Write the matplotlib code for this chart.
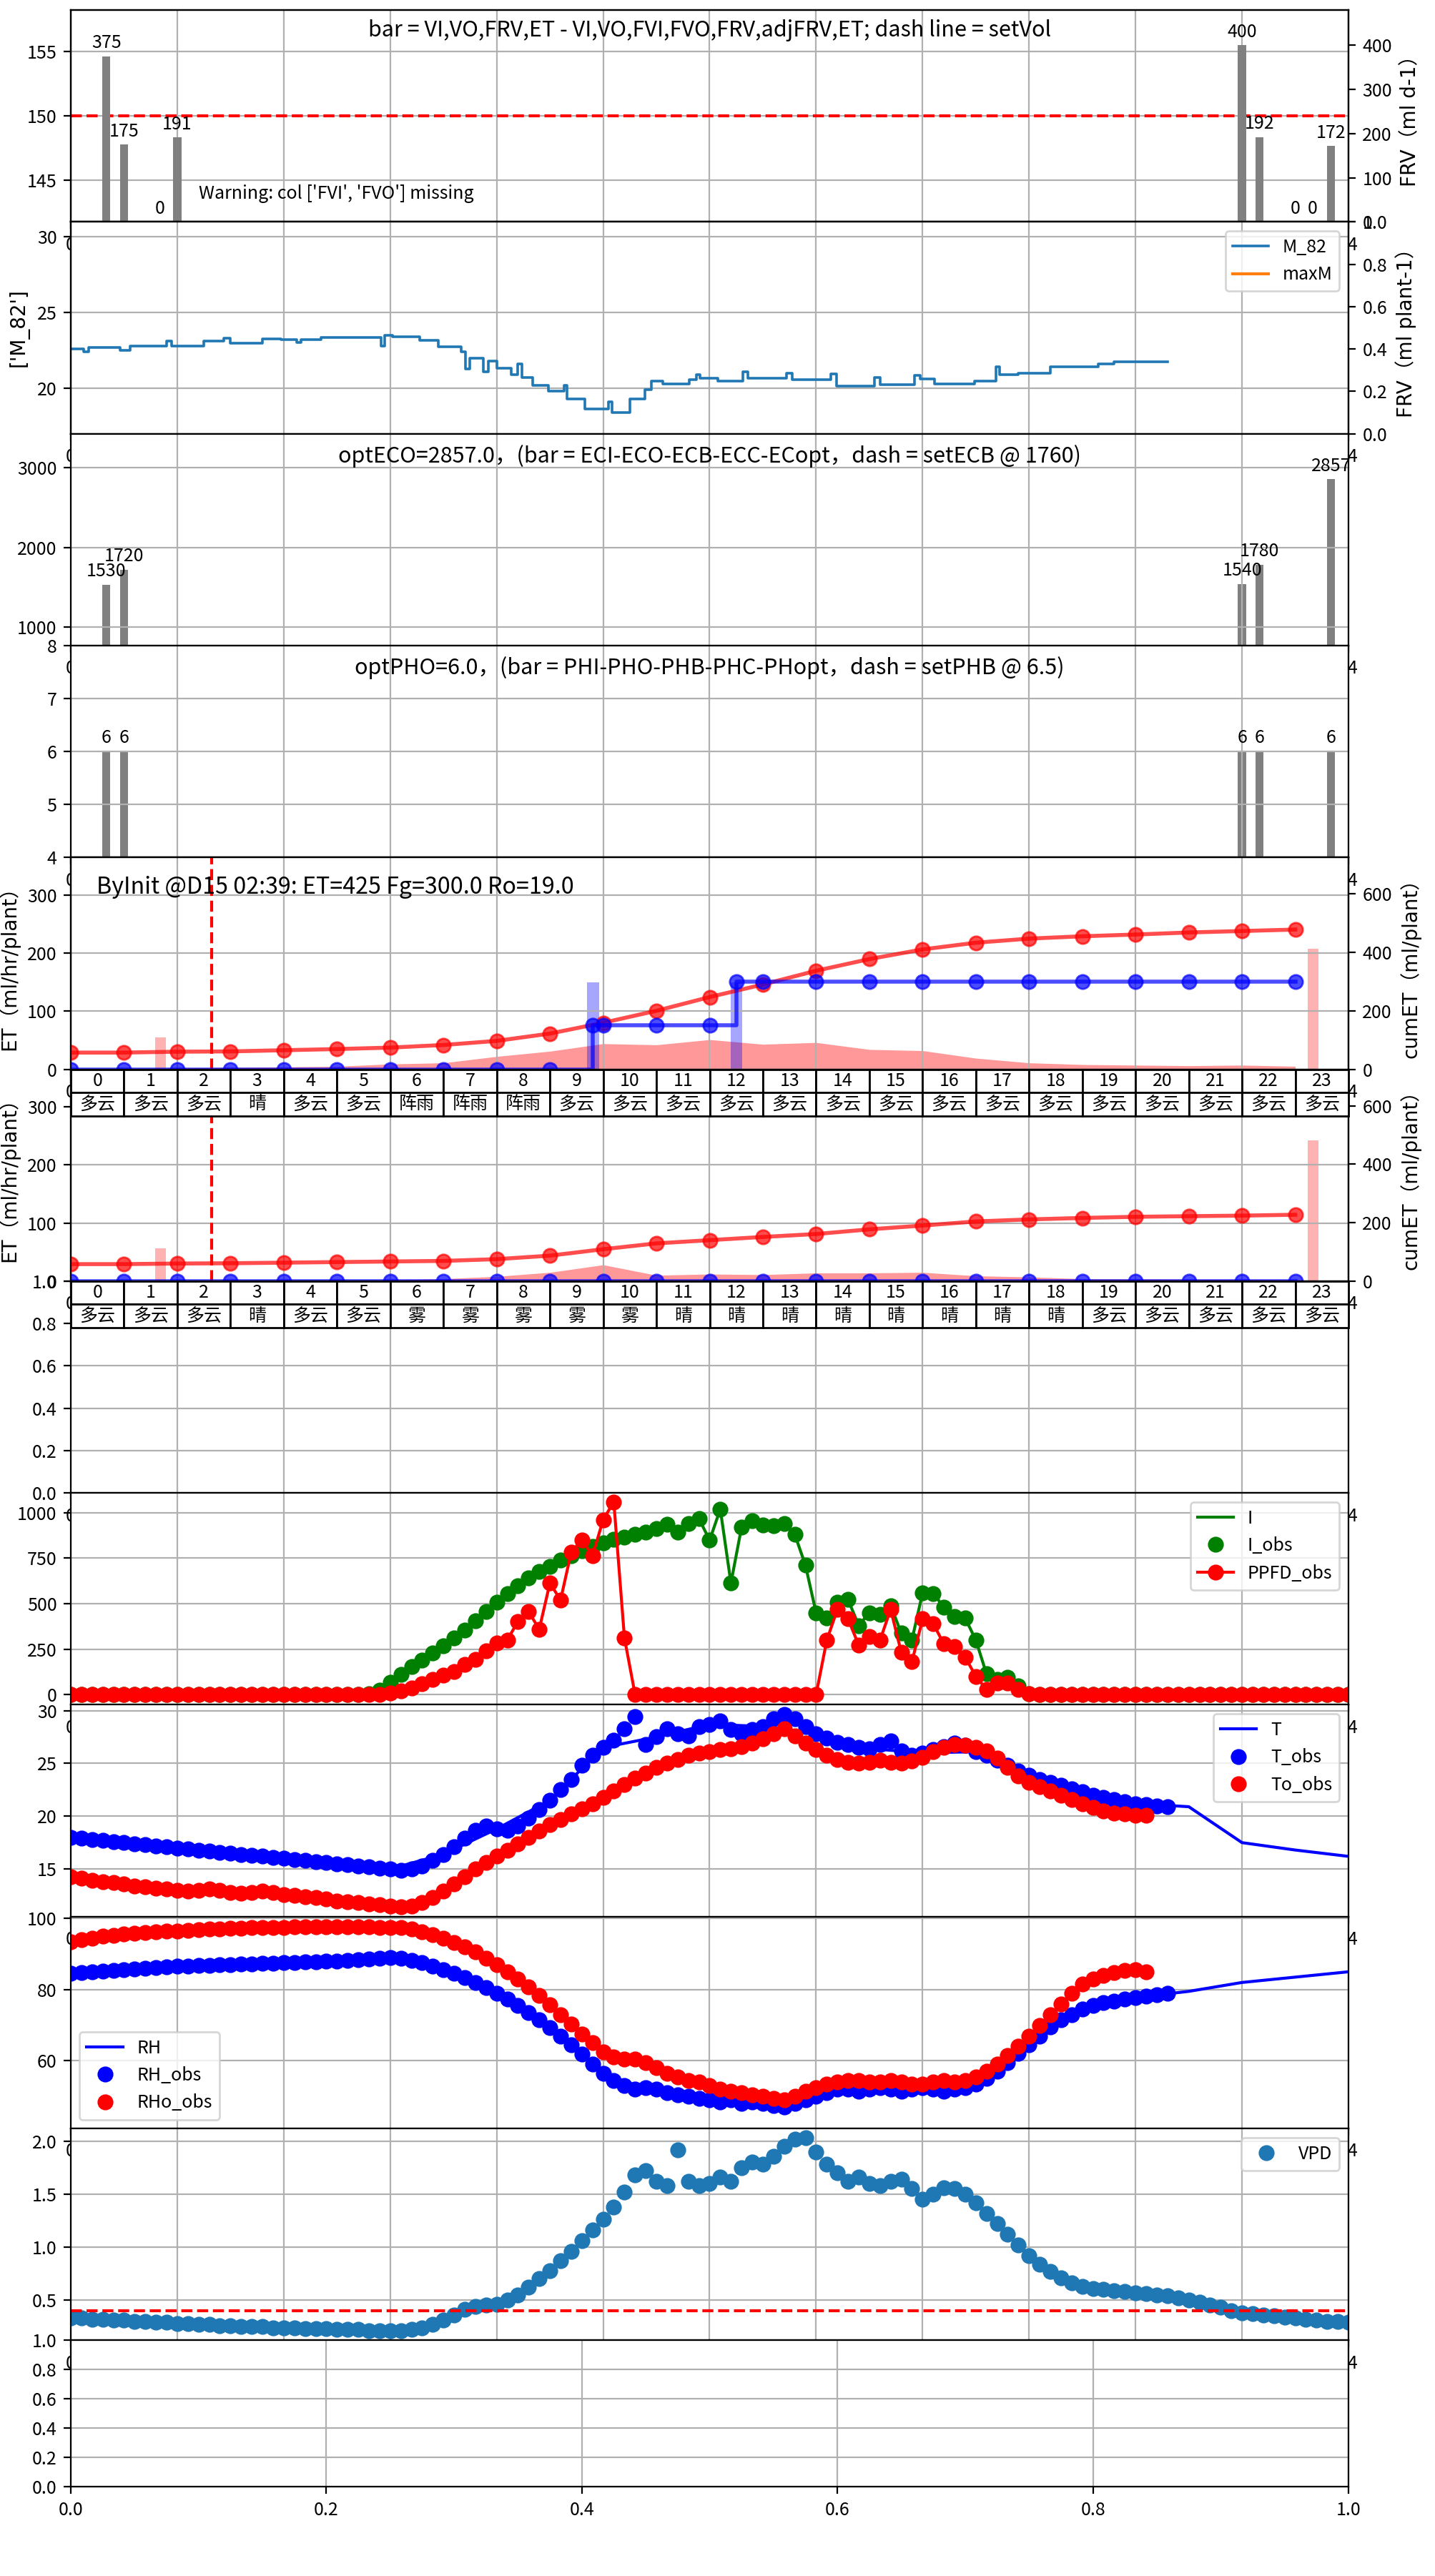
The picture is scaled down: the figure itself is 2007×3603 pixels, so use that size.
import numpy as np
import matplotlib
matplotlib.use("Agg")
import matplotlib.pyplot as plt

plt.rcParams['font.family'] = ['Noto Sans CJK SC', 'DejaVu Sans']
plt.rcParams['font.size'] = 9
plt.rcParams['axes.unicode_minus'] = False
LBL_FONT = ['DejaVu Sans', 'Noto Sans CJK SC']

# ---------------- data ----------------
# panel 1: FRV bars (event hour, value)
ev_hour = [0.67, 1.0, 1.67, 2.0, 22.0, 22.33, 23.0, 23.33, 23.67]
frv_val = [375, 175, 0, 191, 400, 192, 0, 0, 172]
set_vol = 150

# panel 2: M_82 (step breakpoints)
m82_hour = [0.0, 0.24, 0.34, 0.92, 1.12, 1.8, 1.9, 2.5, 2.88, 3.0, 3.6, 3.95, 4.25, 4.32,
            4.7, 5.83, 5.9, 6.05, 6.55, 6.9, 7.33, 7.42, 7.5, 7.75, 7.85, 8.0, 8.27, 8.4,
            8.48, 8.68, 8.97, 9.27, 9.32, 9.65, 10.1, 10.17, 10.5, 10.78, 10.9, 11.12,
            11.62, 11.75, 11.82, 12.16, 12.62, 12.72, 13.45, 13.55, 14.28, 14.38, 15.1,
            15.2, 15.85, 15.95, 16.22, 16.97, 17.38, 17.45, 17.8, 18.4, 19.3, 19.6, 20.6]
m82_val = [22.6, 22.4, 22.7, 22.5, 22.8, 23.1, 22.8, 23.1, 23.3, 23.0, 23.25, 23.2, 23.05, 23.2,
           23.35, 22.8, 23.5, 23.4, 23.15, 22.75, 22.4, 21.3, 22.0, 21.1, 21.8, 21.35, 20.9, 21.6,
           20.7, 20.2, 19.8, 20.2, 19.3, 18.65, 19.1, 18.4, 19.3, 19.9, 20.5, 20.3,
           20.55, 20.9, 20.65, 20.5, 21.1, 20.65, 21.0, 20.55, 20.95, 20.15, 20.7,
           20.25, 20.85, 20.6, 20.3, 20.5, 21.4, 20.9, 21.0, 21.4, 21.6, 21.75, 21.75]

# panels 3/4: EC and PH bars
ec_hour = [0.67, 1.0, 22.0, 22.33, 23.67]
eco_val = [1530, 1720, 1540, 1780, 2857]
pho_val = [6, 6, 6, 6, 6]

# panels 5/6: hourly ET
hours = list(range(24))
hour_lbl = [str(h) for h in hours]
weather_init = ['多云', '多云', '多云', '晴', '多云', '多云', '阵雨', '阵雨', '阵雨', '多云', '多云', '多云',
                '多云', '多云', '多云', '多云', '多云', '多云', '多云', '多云', '多云', '多云', '多云', '多云']
weather_wofv = ['多云', '多云', '多云', '晴', '多云', '多云', '雾', '雾', '雾', '雾', '雾', '晴',
                '晴', '晴', '晴', '晴', '晴', '晴', '晴', '多云', '多云', '多云', '多云', '多云']
et_init = [1, 1, 2, 3, 4, 5, 9, 11, 22, 31, 44, 42, 51, 43, 46, 34, 32, 19, 11, 8, 7, 6, 7, 5]
cum_init = [57, 57, 60, 61, 65, 69, 74, 83, 97, 122, 159, 200, 247, 290, 337, 377, 410, 433,
            447, 455, 461, 468, 473, 478]
et_wofv = [1, 1, 1, 2, 2, 2, 2, 4, 8, 15, 28, 10, 12, 11, 14, 14, 15, 9, 7, 4, 3.5, 3, 3, 2]
cum_wofv = [58, 58, 60, 61, 63, 65, 67, 69, 75, 87, 109, 129, 140, 151, 161, 177, 190, 204,
            211, 216, 220, 222, 224, 227]
fg_hour = [0, 1, 2, 3, 4, 5, 6, 7, 8, 9, 9.81, 10, 11, 12, 12.5, 13, 14, 15, 16, 17, 18, 19, 20, 21, 22, 23]
fg_cum_init = [0, 0, 0, 0, 0, 0, 0, 0, 0, 0, 150, 150, 150, 150, 300, 300, 300, 300, 300, 300, 300,
               300, 300, 300, 300, 300]
fg_cum_wofv = [0] * 24
irr_hour = [9.81, 12.5]
irr_val = [150, 150]
mark_hour = [1.69, 23.33]
mark_init = [55, 208]
mark_wofv = [57, 242]
now_hour = 2.65

# panel 8: light (0.2 h samples, 0..24)
t_day = np.round(np.arange(0, 24.001, 0.2), 1)
i_obs = ([0] * 28 +
         [3, 25, 68, 110, 154, 190, 228, 268, 310, 355,
          405, 455, 508, 555, 600, 640, 675, 705, 738, 765,
          792, 815, 836, 852, 866, 880, 895, 912, 935, 895,
          940, 967, 849, 1020, 613, 921, 955, 934, 930, 940,
          880, 711, 449, 420, 508, 522, 380, 450, 442, 490,
          337, 300, 560, 555, 482, 430, 420, 300, 114, 85,
          95, 49, 5] + [0] * 30)
ppfd_obs = ([0] * 28 +
            [0, 2, 9, 20, 35, 60, 85, 105, 125, 165,
             193, 240, 285, 300, 403, 455, 360, 613, 520, 783,
             850, 764, 961, 1060, 311] + [0] * 18 +
            [298, 469, 416, 272, 320, 298, 469, 232, 180, 416,
             390, 278, 265, 206, 100, 29, 62, 62, 29, 3] + [0] * 30)

# panels 9-11: climate (0.2 h samples)
t_obs = t_day[:104]      # 0.0 .. 20.6
to_obs = t_day[:102]     # 0.0 .. 20.2
temp_obs = [18.0, 17.9, 17.8, 17.7, 17.6, 17.5, 17.4, 17.3, 17.2, 17.1,
            17.0, 16.9, 16.8, 16.7, 16.6, 16.5, 16.4, 16.3, 16.2, 16.1,
            16.0, 15.9, 15.8, 15.7, 15.6, 15.5, 15.4, 15.3, 15.2, 15.1,
            15.0, 14.9, 15.0, 15.3, 15.8, 16.4, 17.1, 17.9, 18.7, 19.1,
            18.8, 18.7, 19.1, 19.8, 20.6, 21.5, 22.5, 23.5, 24.8, 25.8,
            26.5, 27.2, 28.3, 29.4, 26.8, 27.5, 28.3, 27.8, 27.6, 28.5,
            28.7, 29.0, 28.2, 27.8, 28.2, 28.5, 29.2, 29.6, 29.2, 28.5,
            27.8, 27.4, 27.0, 26.8, 26.5, 26.4, 26.8, 27.1, 26.2, 25.8,
            26.0, 26.3, 26.6, 26.9, 26.7, 26.1, 25.8, 25.3, 24.8, 24.3,
            23.9, 23.5, 23.2, 22.9, 22.6, 22.3, 22.0, 21.8, 21.6, 21.4,
            21.2, 21.1, 21.0, 20.9]
tempo_obs = [14.3, 14.1, 13.9, 13.8, 13.7, 13.6, 13.4, 13.3, 13.2, 13.1,
             13.0, 12.9, 13.0, 13.1, 13.0, 12.8, 12.7, 12.8, 12.9, 12.8,
             12.6, 12.5, 12.4, 12.3, 12.2, 12.0, 11.9, 11.8, 11.7, 11.6,
             11.5, 11.4, 11.5, 11.8, 12.3, 12.9, 13.6, 14.3, 15.0, 15.6,
             16.2, 16.8, 17.4, 18.0, 18.6, 19.2, 19.7, 20.2, 20.7, 21.2,
             21.8, 22.4, 23.0, 23.6, 24.1, 24.6, 25.0, 25.4, 25.8, 26.0,
             26.1, 26.3, 26.4, 26.6, 26.9, 27.3, 27.8, 28.3, 27.6, 26.9,
             26.3, 25.8, 25.4, 25.1, 25.0, 25.1, 25.3, 25.1, 25.0, 25.2,
             25.6, 26.1, 26.5, 26.8, 26.7, 26.5, 26.2, 25.5, 24.6, 23.8,
             23.2, 22.8, 22.4, 22.0, 21.6, 21.2, 20.8, 20.5, 20.3, 20.2,
             20.1, 20.1]
fc_hour = list(range(25))
temp_fc = [18.0, 17.5, 17.0, 16.5, 16.0, 15.5, 15.0, 16.4, 18.8, 21.5, 26.5, 27.5, 28.7, 28.5,
           27.8, 26.4, 26.0, 26.1, 23.9, 22.3, 21.2, 20.9, 17.5, 16.8, 16.2]
rh_obs = [84.5, 84.7, 84.9, 85.1, 85.3, 85.5, 85.7, 85.9, 86.1, 86.3,
          86.5, 86.6, 86.7, 86.8, 86.9, 87.0, 87.1, 87.2, 87.3, 87.4,
          87.5, 87.6, 87.7, 87.8, 87.9, 88.0, 88.1, 88.3, 88.5, 88.7,
          88.9, 88.8, 88.2, 87.5, 86.6, 85.6, 84.5, 83.3, 82.0, 80.6,
          79.0, 77.3, 75.5, 73.6, 71.6, 69.4, 67.0, 64.5, 61.8, 59.0,
          56.5, 54.5, 53.0, 52.0, 52.5, 52.0, 51.0, 50.5, 50.0, 49.5,
          49.0, 48.5, 49.0, 48.0, 48.5, 48.0, 47.5, 47.0, 48.0, 49.0,
          50.0, 51.0, 52.0, 52.0, 51.5, 52.0, 52.5, 52.0, 51.5, 52.0,
          52.5, 52.0, 51.5, 52.0, 52.5, 53.5, 55.0, 57.0, 59.5, 62.0,
          64.5, 67.0, 69.5, 71.5, 73.0, 74.5, 75.5, 76.3, 76.8, 77.3,
          77.8, 78.2, 78.6, 79.0]
rho_obs = [93.5, 94.0, 94.5, 95.0, 95.3, 95.6, 95.8, 96.0, 96.2, 96.4,
           96.5, 96.7, 96.9, 97.0, 97.1, 97.2, 97.3, 97.4, 97.5, 97.5,
           97.5, 97.6, 97.6, 97.6, 97.7, 97.7, 97.7, 97.6, 97.6, 97.5,
           97.5, 97.4, 97.0, 96.3, 95.5, 94.5, 93.3, 92.0, 90.5, 88.8,
           87.0, 85.0, 83.0, 80.8, 78.3, 75.7, 73.0, 70.3, 67.6, 65.0,
           62.5, 61.0, 60.5, 60.5, 59.5, 58.0, 56.5, 55.5, 54.5, 54.0,
           53.0, 52.0, 51.5, 51.0, 50.5, 50.0, 49.5, 49.0, 50.0, 51.5,
           52.5, 53.5, 54.0, 54.5, 54.5, 54.0, 54.0, 54.5, 54.0, 53.5,
           53.5, 54.0, 54.5, 54.0, 54.5, 55.5, 57.0, 59.0, 61.5, 64.0,
           67.0, 70.0, 73.0, 76.0, 79.0, 81.5, 83.0, 84.0, 84.8, 85.3,
           85.5, 85.0]
rh_fc = [84.5, 85.5, 86.5, 87.0, 87.5, 88.0, 88.9, 85.6, 79.0, 69.4, 56.5, 51.0, 49.0, 48.0,
         50.0, 52.0, 52.5, 53.5, 64.5, 74.5, 77.8, 79.5, 82.0, 83.5, 85.0]
vpd = [0.33, 0.33, 0.32, 0.32, 0.31, 0.31, 0.30, 0.30, 0.29, 0.29,
       0.28, 0.28, 0.27, 0.27, 0.26, 0.26, 0.25, 0.25, 0.25, 0.24,
       0.24, 0.24, 0.23, 0.23, 0.23, 0.22, 0.22, 0.22, 0.21, 0.21,
       0.21, 0.21, 0.22, 0.24, 0.27, 0.31, 0.36, 0.41, 0.44, 0.45,
       0.46, 0.50, 0.55, 0.62, 0.70, 0.78, 0.87, 0.96, 1.06, 1.16,
       1.26, 1.38, 1.52, 1.68, 1.72, 1.62, 1.58, 1.92, 1.62, 1.58,
       1.60, 1.66, 1.62, 1.75, 1.80, 1.78, 1.86, 1.95, 2.02, 2.03,
       1.90, 1.78, 1.70, 1.62, 1.66, 1.60, 1.58, 1.62, 1.64, 1.55,
       1.45, 1.50, 1.56, 1.55, 1.50, 1.42, 1.32, 1.22, 1.12, 1.02,
       0.92, 0.84, 0.77, 0.71, 0.66, 0.63, 0.61, 0.60, 0.59, 0.58,
       0.57, 0.56, 0.55, 0.54, 0.52, 0.50, 0.48, 0.45, 0.43, 0.40,
       0.38, 0.37, 0.36, 0.35, 0.34, 0.33, 0.32, 0.31, 0.30, 0.30,
       0.29]
vpd_limit = 0.4

# ---------------- layout ----------------
W, H = 2008, 3603
L, R = 99, 1886
TOP0, STEP = 14, 296.3


def rect(i, h=STEP):
    top = TOP0 + STEP * i
    return [L / W, 1 - (top + h) / H, (R - L) / W, h / H]


fig = plt.figure(figsize=(W / 200, H / 200), dpi=200)
zorders = [1, 2, 3, 4, 7, 6, 5, 8, 9, 10, 11, 12]
axes = []
for i in range(11):
    ax = fig.add_axes(rect(i))
    ax.set_zorder(zorders[i])
    ax.set_xlim(0, 24)
    ax.set_xticks(range(0, 25, 2))
    ax.grid(True)
    axes.append(ax)
ax_last = fig.add_axes(rect(11, h=205))
ax_last.set_zorder(12)
ax_last.set_yticks([0, 0.2, 0.4, 0.6, 0.8, 1.0])
ax_last.grid(True)

# panel 1
ax = axes[0]
ax.axhline(set_vol, color='red', ls='--', lw=1.5)
ax.set_ylim(141.75, 158.25)
ax.set_yticks([145, 150, 155])
ax.text(0.5, 0.905, 'bar = VI,VO,FRV,ET - VI,VO,FVI,FVO,FRV,adjFRV,ET; dash line = setVol',
        transform=ax.transAxes, ha='center', va='center', fontsize=11)
ax.text(0.1, 0.09, "Warning: col ['FVI', 'FVO'] missing", transform=ax.transAxes,
        ha='left', va='bottom', fontsize=9)
tw = ax.twinx()
tw.set_zorder(1.1)
tw.bar(ev_hour, frv_val, width=0.15, color='gray')
for x, v in zip(ev_hour, frv_val):
    tw.annotate(str(v), (x, v), xytext=(0, 2), textcoords='offset points',
                ha='center', va='bottom')
tw.set_ylim(0, 480)
tw.set_yticks([0, 100, 200, 300, 400])
tw.set_ylabel('FRV（ml d-1）', family=LBL_FONT, fontsize=10)

# panel 2
ax = axes[1]
ax.plot(m82_hour, m82_val, color='C0', lw=1.3, drawstyle='steps-post', label='M_82')
ax.plot([], [], color='C1', lw=1.5, label='maxM')
ax.set_ylim(17, 31)
ax.set_yticks([20, 25, 30])
ax.set_ylabel("['M_82']", family=LBL_FONT, fontsize=10)
ax.legend(loc='upper right')
tw = ax.twinx()
tw.set_zorder(2.1)
tw.set_ylim(0, 1)
tw.set_yticks([0, 0.2, 0.4, 0.6, 0.8, 1.0])
tw.set_ylabel('FRV（ml plant-1）', family=LBL_FONT, fontsize=10)

# panel 3 / 4
for ax, vals, lim, ticks, title in [
        (axes[2], eco_val, (765, 3428.4), [1000, 2000, 3000],
         'optECO=2857.0，(bar = ECI-ECO-ECB-ECC-ECopt，dash = setECB @ 1760)'),
        (axes[3], pho_val, (4, 8), [4, 5, 6, 7, 8],
         'optPHO=6.0，(bar = PHI-PHO-PHB-PHC-PHopt，dash = setPHB @ 6.5)')]:
    ax.bar(ec_hour, vals, width=0.15, color='gray')
    for x, v in zip(ec_hour, vals):
        ax.annotate(str(v), (x, v), xytext=(0, 2), textcoords='offset points',
                    ha='center', va='bottom')
    ax.set_ylim(*lim)
    ax.set_yticks(ticks)
    ax.text(0.5, 0.895, title, transform=ax.transAxes, ha='center', va='center', fontsize=11)

# panels 5 / 6
for k, (ax, et, cum, fg, mark, weather, txt) in enumerate([
        (axes[4], et_init, cum_init, fg_cum_init, mark_init, weather_init,
         'ByInit @D15 02:39: ET=425 Fg=300.0 Ro=19.0'),
        (axes[5], et_wofv, cum_wofv, fg_cum_wofv, mark_wofv, weather_wofv,
         'ByWoFv @D15 02:39: ET=172 Fg=0.0 Ro=0')]):
    ax.fill_between(hours, et, color='red', alpha=0.4, lw=0)
    ax.bar(mark_hour, mark, width=0.2, color='red', alpha=0.3)
    if k == 0:
        ax.bar(irr_hour, irr_val, width=0.22, color='blue', alpha=0.35)
    ax.axvline(now_hour, color='red', ls='--', lw=1.5)
    ax.set_ylim(0, 365)
    ax.set_yticks([0, 100, 200, 300])
    ax.set_ylabel('ET（ml/hr/plant）', family=LBL_FONT, fontsize=10)
    ax.text(0.02, 0.858, txt, transform=ax.transAxes, ha='left', va='center', fontsize=11.6)
    tbl = ax.table(cellText=[hour_lbl, weather], cellLoc='center', bbox=[0, -0.22, 1, 0.22])
    tbl.auto_set_font_size(False)
    tbl.set_fontsize(9)
    tbl.set_zorder(10)
    tw = ax.twinx()
    tw.set_zorder(ax.get_zorder() + 0.1)
    tw.plot(hours, cum, 'o-', color='red', alpha=0.7, lw=2, ms=7)
    if k == 0:
        tw.plot(fg_hour, fg, 'o-', color='blue', alpha=0.7, lw=2, ms=7, drawstyle='steps-post')
    else:
        tw.plot(hours, fg, 'o-', color='blue', alpha=0.7, lw=2, ms=7)
    tw.set_ylim(0, 725)
    tw.set_yticks([0, 200, 400, 600])
    tw.set_ylabel('cumET（ml/plant）', family=LBL_FONT, fontsize=10)

# panel 7: empty
axes[6].set_ylim(0, 1)

# panel 8: light
ax = axes[7]
ax.plot(t_day, i_obs, '-', color='green', lw=1.5, label='I')
ax.plot(t_day, i_obs, 'o', color='green', ms=7, label='I_obs')
ax.plot(t_day, ppfd_obs, 'o-', color='red', ms=7, lw=1.5, label='PPFD_obs')
ax.set_ylim(-56, 1109)
ax.set_yticks([0, 250, 500, 750, 1000])
ax.legend(loc='upper right')

# panel 9: temperature
ax = axes[8]
ax.plot(fc_hour, temp_fc, '-', color='blue', lw=1.5, label='T')
ax.plot(t_obs, temp_obs, 'o', color='blue', ms=7, label='T_obs')
ax.plot(to_obs, tempo_obs, 'o', color='red', ms=7, label='To_obs')
ax.set_ylim(10.5, 30.55)
ax.set_yticks([15, 20, 25, 30])
ax.legend(loc='upper right')

# panel 10: RH
ax = axes[9]
ax.plot(fc_hour, rh_fc, '-', color='blue', lw=1.5, label='RH')
ax.plot(t_obs, rh_obs, 'o', color='blue', ms=7, label='RH_obs')
ax.plot(to_obs, rho_obs, 'o', color='red', ms=7, label='RHo_obs')
ax.set_ylim(41, 100.5)
ax.set_yticks([60, 80, 100])
ax.legend(loc='lower left')

# panel 11: VPD
ax = axes[10]
ax.plot(t_day, vpd, 'o', color='C0', ms=7, label='VPD')
ax.axhline(vpd_limit, color='red', ls='--', lw=1.5)
ax.set_ylim(0.12, 2.12)
ax.set_yticks([0.5, 1.0, 1.5, 2.0])
ax.legend(loc='upper right')

fig.savefig('out.png', dpi=200)
